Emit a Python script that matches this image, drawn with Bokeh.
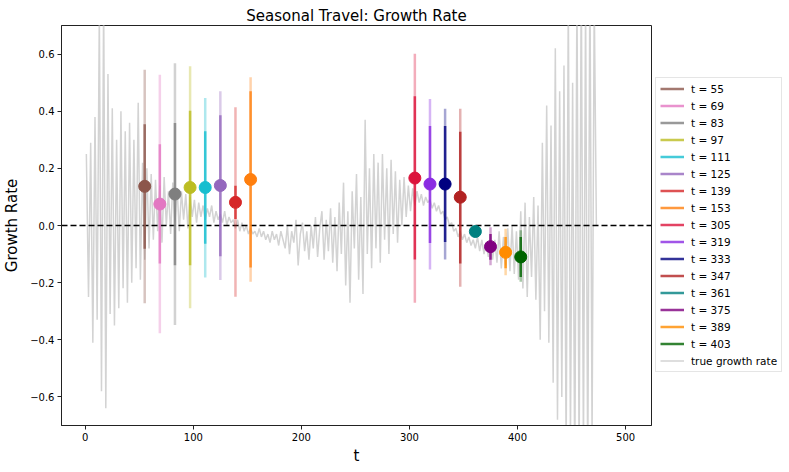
from bokeh.plotting import figure
from bokeh.models import Legend, LegendItem, Range1d, FixedTicker
from bokeh.layouts import row
from bokeh.embed import file_html
from bokeh.resources import INLINE

# ---------------- data ----------------
title_text = "Seasonal Travel: Growth Rate"
x_label = "t"
y_label = "Growth Rate"
x_ticks = [0, 100, 200, 300, 400, 500]
y_ticks = [-0.6, -0.4, -0.2, 0.0, 0.2, 0.4, 0.6]
y_tick_labels = ["−0.6", "−0.4", "−0.2", "0.0", "0.2", "0.4", "0.6"]
x_limits = (-22, 524)
y_limits = (-0.7, 0.7)
zero_level = [0.0]

# true growth rate, read every 2 time steps (t = 1, 3, 5, ...)
true_rate = [
    0.25, -0.25, 0.29, -0.41, 0.38, -0.33, 0.75, -0.58, 0.80, -0.64,
    0.53, -0.31, 0.41, -0.35, 0.30, -0.29, 0.40, -0.22, 0.33, -0.27,
    0.36, -0.20, 0.30, -0.15, 0.43, -0.19, 0.22, -0.12, 0.20, -0.08,
    0.18, -0.05, 0.16, -0.02, 0.14, -0.06, 0.17, 0.00, 0.12, -0.03,
    0.15, 0.01, 0.13, -0.02, 0.12, 0.02, 0.11, -0.01, 0.10, 0.03,
    0.09, 0.01, 0.08, 0.03, 0.07, 0.02, 0.06, 0.03, 0.07, 0.01,
    0.05, 0.02, 0.04, 0.01, 0.05, 0.00, 0.03, 0.01, 0.02, -0.01,
    0.02, -0.02, 0.01, -0.02, 0.00, -0.03, -0.01, -0.03, -0.02, -0.04,
    -0.01, -0.04, -0.02, -0.05, -0.03, -0.06, -0.02, -0.05, -0.03, -0.07,
    -0.02, -0.05, -0.08, 0.00, -0.10, -0.02, -0.06, 0.02, -0.14, -0.03,
    0.01, -0.09, -0.02, -0.12, 0.00, -0.08, 0.03, -0.11, -0.01, 0.05,
    -0.12, 0.02, -0.09, 0.06, -0.13, 0.03, -0.16, 0.08, -0.10, 0.15,
    -0.21, 0.05, -0.27, 0.12, -0.08, 0.18, -0.19, 0.10, -0.24, 0.37,
    -0.10, 0.20, -0.15, 0.25, -0.08, 0.22, -0.13, 0.25, -0.05, 0.20,
    -0.10, 0.23, -0.03, 0.19, -0.06, 0.16, 0.00, 0.17, 0.03, 0.14,
    0.05, 0.13, 0.07, 0.12, 0.08, 0.11, 0.07, 0.10, 0.08, 0.09,
    0.06, 0.08, 0.05, 0.07, 0.04, 0.05, 0.02, 0.03, 0.00, 0.01,
    -0.02, -0.01, -0.04, -0.02, -0.05, -0.03, -0.06, -0.04, -0.07, -0.05,
    -0.08, -0.04, -0.09, -0.05, -0.10, -0.06, -0.11, -0.03, -0.12, -0.05,
    -0.13, -0.02, -0.15, -0.04, -0.14, -0.01, -0.16, 0.00, -0.17, -0.02,
    -0.19, 0.05, -0.22, 0.08, -0.25, 0.03, -0.18, 0.10, -0.26, 0.07,
    -0.40, 0.29, -0.30, 0.42, -0.41, 0.35, -0.55, 0.62, -0.68, 0.47,
    -0.60, 0.56, -0.80, 0.80, -0.75, 0.50, -0.90, 0.85, -0.85, 0.90,
    -0.80, 0.80, -0.90, 0.90, -0.75, 0.80, 0.00,
]
true_t = list(range(1, 2 * len(true_rate), 2))

est_t = [55, 69, 83, 97, 111, 125, 139, 153, 305, 319, 333, 347, 361, 375, 389, 403]
est_value = [0.137, 0.075, 0.110, 0.133, 0.133, 0.140, 0.081, 0.161,
             0.166, 0.145, 0.145, 0.099, -0.021, -0.074, -0.094, -0.110]
inner_lo = [-0.081, -0.133, -0.139, -0.139, -0.064, -0.108, 0.023, -0.147,
            -0.119, -0.061, -0.058, -0.133, -0.030, -0.120, -0.150, -0.180]
inner_hi = [0.354, 0.284, 0.359, 0.402, 0.330, 0.386, 0.139, 0.470,
            0.452, 0.348, 0.348, 0.328, -0.012, -0.030, -0.040, -0.040]
outer_lo = [-0.272, -0.377, -0.348, -0.290, -0.182, -0.191, -0.249, -0.197,
            -0.270, -0.154, -0.119, -0.214, -0.035, -0.139, -0.174, -0.197]
outer_hi = [0.545, 0.528, 0.568, 0.557, 0.446, 0.470, 0.414, 0.519,
            0.601, 0.443, 0.409, 0.409, -0.007, -0.006, -0.011, -0.017]
est_colors = ["#8c564b", "#e377c2", "#7f7f7f", "#bcbd22", "#17becf", "#9467bd",
              "#d62728", "#ff7f0e", "#dc143c", "#8a2be2", "#000080", "#b22222",
              "#008080", "#800080", "#ff8c00", "#006400"]
true_label = "true growth rate"
true_color = "#d3d3d3"

FONT = "DejaVu Sans"

# ---------------- main figure ----------------
p = figure(frame_width=590, frame_height=400,
           x_range=Range1d(*x_limits), y_range=Range1d(*y_limits),
           output_backend="svg", toolbar_location=None,
           min_border_left=54, min_border_right=2, min_border_top=25,
           min_border_bottom=35)
p.background_fill_color = "white"
p.border_fill_color = "white"
p.xgrid.visible = False
p.ygrid.visible = False
p.outline_line_color = "#222222"
p.outline_line_width = 1

p.title.text = title_text
p.title.align = "center"
p.title.text_font = FONT
p.title.text_font_size = "15px"
p.title.text_font_style = "normal"
p.title.text_color = "black"
p.title.standoff = 1

for ax in (p.xaxis[0], p.yaxis[0]):
    ax.axis_line_color = "#222222"
    ax.major_tick_line_color = "#222222"
    ax.major_tick_out = 4
    ax.major_tick_in = 0
    ax.minor_tick_out = 0
    ax.minor_tick_in = 0
    ax.major_label_text_font = FONT
    ax.major_label_text_font_size = "10px"
    ax.major_label_text_color = "black"
    ax.axis_label_text_font = FONT
    ax.axis_label_text_font_size = "15px"
    ax.axis_label_text_font_style = "normal"
    ax.axis_label_text_color = "black"
    ax.major_label_standoff = 3

p.xaxis[0].ticker = FixedTicker(ticks=x_ticks)
p.yaxis[0].ticker = FixedTicker(ticks=y_ticks)
p.yaxis[0].major_label_overrides = {v: s for v, s in zip(y_ticks, y_tick_labels)}
p.xaxis[0].axis_label = x_label
p.yaxis[0].axis_label = y_label
p.xaxis[0].axis_label_standoff = 3
p.yaxis[0].axis_label_standoff = 6

p.line(true_t, true_rate, line_color=true_color, line_width=1.5)
p.hspan(y=zero_level, line_color="black", line_dash="6 3", line_width=1.5)

for i, t in enumerate(est_t):
    c = est_colors[i]
    p.segment(x0=[t], y0=[outer_lo[i]], x1=[t], y1=[outer_hi[i]],
              line_color=c, line_alpha=0.35, line_width=2.5)
    p.segment(x0=[t], y0=[inner_lo[i]], x1=[t], y1=[inner_hi[i]],
              line_color=c, line_alpha=0.8, line_width=2.5)
    p.scatter(x=[t], y=[est_value[i]], size=12, fill_color=c, line_color=c)

# ---------------- legend panel (proxies lie outside its ranges) ----------------
lg = figure(width=131, height=456, output_backend="svg", toolbar_location=None,
            x_range=Range1d(-10, -9), y_range=Range1d(-10, -9),
            x_axis_location=None, y_axis_location=None,
            min_border_left=0, min_border_right=0, min_border_top=0,
            min_border_bottom=0)
lg.grid.visible = False
lg.outline_line_color = None
lg.background_fill_color = "white"
lg.border_fill_color = "white"

items = []
for i, t in enumerate(est_t):
    r = lg.segment(x0=[t], y0=[inner_lo[i]], x1=[t], y1=[inner_hi[i]],
                   line_color=est_colors[i], line_alpha=0.8, line_width=2.5)
    items.append(LegendItem(label=f"t = {t}", renderers=[r]))
r_true = lg.line(true_t, true_rate, line_color=true_color, line_width=1.5)
items.append(LegendItem(label=true_label, renderers=[r_true]))

legend = Legend(items=items, location=(2, 42))
legend.label_text_font = FONT
legend.label_text_font_size = "10.5px"
legend.label_text_color = "black"
legend.glyph_width = 24
legend.glyph_height = 13
legend.label_height = 13
legend.label_standoff = 7
legend.spacing = 4
legend.padding = 4
legend.margin = 0
legend.border_line_color = "#cccccc"
legend.border_line_width = 1
legend.background_fill_color = "white"
lg.add_layout(legend, "center")

layout = row(p, lg)
open("out.html", "w").write(file_html(layout, INLINE))
